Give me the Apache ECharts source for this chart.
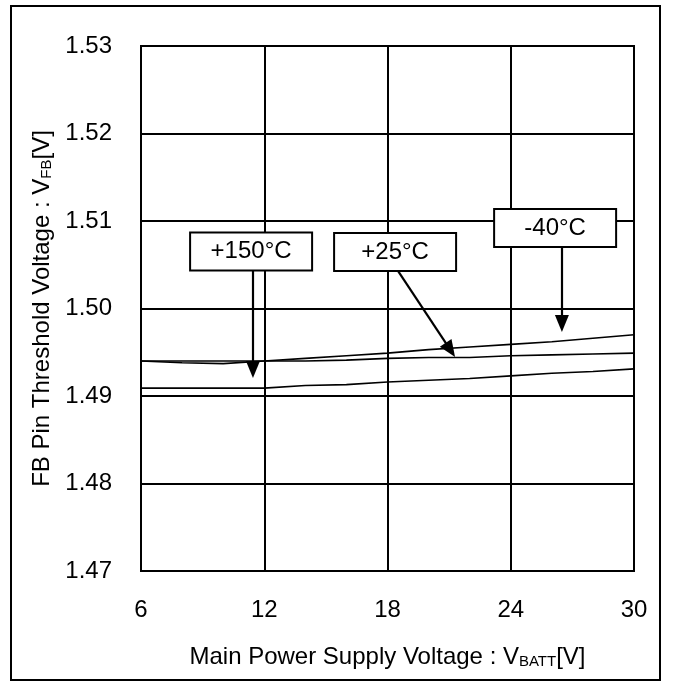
<!DOCTYPE html>
<html>
<head>
<meta charset="utf-8">
<script src="https://cdn.jsdelivr.net/npm/echarts@6/dist/echarts.min.js"></script>
<style>html,body{margin:0;padding:0;background:#fff;}#c{width:673px;height:687px;}</style>
</head>
<body>
<div id="c"></div>
<script>
// ---- data ----
const voltage = [6, 8, 10, 12, 14, 16, 18, 20, 22, 24, 26, 28, 30];
const vfbMinus40 = [1.4940, 1.4940, 1.4940, 1.4940, 1.4943, 1.4946, 1.4949, 1.4953, 1.4956, 1.4959, 1.4962, 1.4966, 1.4970];
const vfbPlus25  = [1.4940, 1.4938, 1.4937, 1.4940, 1.4940, 1.4941, 1.4943, 1.4944, 1.4944, 1.4946, 1.4947, 1.4948, 1.4949];
const vfbPlus150 = [1.4909, 1.4909, 1.4909, 1.4909, 1.4912, 1.4913, 1.4916, 1.4918, 1.4920, 1.4923, 1.4926, 1.4928, 1.4931];
const xTicks = [6, 12, 18, 24, 30];
const yTicks = [1.47, 1.48, 1.49, 1.50, 1.51, 1.52, 1.53];
const seriesNames = ['-40°C', '+25°C', '+150°C'];

// annotation placement (data coordinates)
const annotations = [
  { text: '+150°C', box: [11.36, 1.50651], from: [11.45, 1.50429], to: [11.45, 1.49303] },
  { text: '+25°C',  box: [18.37, 1.50646], from: [18.51, 1.50429], to: [21.06, 1.49527] },
  { text: '-40°C',  box: [26.16, 1.50920], from: [26.49, 1.50703], to: [26.49, 1.49828] }
];

const FONT = 'Liberation Sans, Arial, sans-serif';
const chart = echarts.init(document.getElementById('c'), null, { renderer: 'canvas' });

function pairs(ys) { return voltage.map((v, i) => [v, ys[i]]); }

const lineBase = {
  type: 'line', showSymbol: false, symbol: 'none', smooth: false,
  lineStyle: { color: '#000', width: 1.6 }, itemStyle: { color: '#000' }, z: 3
};

const nameRich = {
  a: { fontSize: 24, fontFamily: FONT, color: '#000', lineHeight: 26, verticalAlign: 'bottom' },
  s: { fontSize: 15, fontFamily: FONT, color: '#000', lineHeight: 4, verticalAlign: 'bottom' }
};

const option = {
  animation: false,
  backgroundColor: '#fff',
  graphic: [{
    type: 'rect', shape: { x: 11, y: 6, width: 649, height: 674 },
    style: { fill: 'none', stroke: '#000', lineWidth: 2 }, silent: true, z: 0
  }],
  grid: { left: 141, right: 39, top: 46, bottom: 116, show: true, borderColor: '#000', borderWidth: 2, backgroundColor: 'transparent' },
  xAxis: {
    type: 'value', min: xTicks[0], max: xTicks[xTicks.length - 1], interval: xTicks[1] - xTicks[0],
    axisLine: { show: true, lineStyle: { color: '#000', width: 2 } },
    axisTick: { show: false },
    splitLine: { show: true, lineStyle: { color: '#000', width: 2 } },
    axisLabel: { color: '#000', fontSize: 24, fontFamily: FONT, margin: 27 },
    name: '{a|Main Power Supply Voltage : V}{s|BATT}{a|[V]}',
    nameLocation: 'middle', nameGap: 72,
    nameTextStyle: { rich: nameRich }
  },
  yAxis: {
    type: 'value', min: yTicks[0], max: yTicks[yTicks.length - 1], interval: 0.01,
    axisLine: { show: true, lineStyle: { color: '#000', width: 2 } },
    axisTick: { show: false },
    splitLine: { show: true, lineStyle: { color: '#000', width: 2 } },
    axisLabel: { color: '#000', fontSize: 24, fontFamily: FONT, margin: 29, formatter: v => v.toFixed(2) },
    name: '{a|FB Pin Threshold Voltage : V}{s|FB}{a|[V]}',
    nameLocation: 'middle', nameGap: 82, nameRotate: 90,
    nameTextStyle: { rich: nameRich }
  },
  series: [
    Object.assign({}, lineBase, { name: seriesNames[0], data: pairs(vfbMinus40) }),
    Object.assign({}, lineBase, { name: seriesNames[1], data: pairs(vfbPlus25) }),
    Object.assign({}, lineBase, {
      name: seriesNames[2], data: pairs(vfbPlus150),
      markLine: {
        silent: true, animation: false,
        symbol: ['none', 'triangle'], symbolSize: [14, 17],
        lineStyle: { color: '#000', width: 2.2, type: 'solid' },
        label: { show: false },
        z: 5,
        data: annotations.map(a => [{ coord: a.from }, { coord: a.to }])
      },
      markPoint: {
        silent: true, animation: false, z: 6,
        data: annotations.map(a => ({
          coord: a.box, symbol: 'rect', symbolSize: 1,
          itemStyle: { color: 'rgba(0,0,0,0)' },
          label: {
            show: true, position: 'inside', formatter: a.text, color: '#000',
            fontSize: 24, fontFamily: FONT,
            backgroundColor: '#fff', borderColor: '#000', borderWidth: 2,
            width: 120, height: 36, lineHeight: 36, align: 'center', verticalAlign: 'middle', padding: 0
          }
        }))
      }
    })
  ]
};
chart.setOption(option);
</script>
</body>
</html>
